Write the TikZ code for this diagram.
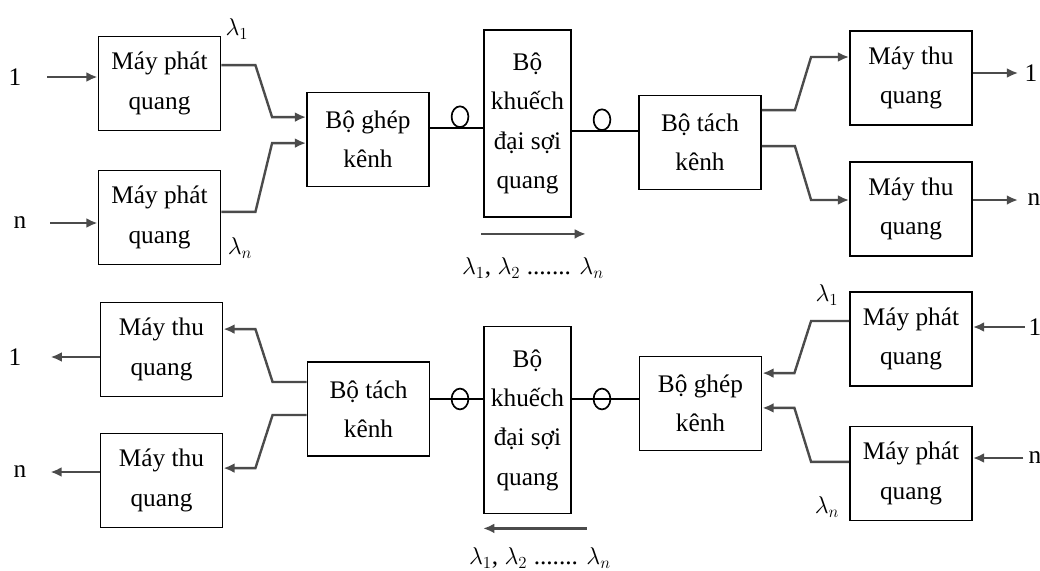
\documentclass[tikz,border=0pt]{standalone}
\usepackage{fontspec}
\setmainfont{Liberation Serif}
\usepackage{tikz}
\usetikzlibrary{shapes.geometric, arrows.meta, positioning}
\definecolor{wiregray}{RGB}{75,75,75}
\tikzset{
  unit/.style={
    draw, rectangle, minimum width=3.05cm, minimum height=2.35cm,
    align=center, font=\fontsize{18}{28}\selectfont,
    line width=1.3pt, inner sep=2pt
  },
  ampbox/.style={unit, minimum width=2.175cm, minimum height=4.675cm},
  wire/.style={-{Latex[length=8pt,width=7pt]}, line width=1.7pt, draw=wiregray},
  fibre/.style={line width=1.2pt},
  joint/.style={draw, ellipse, minimum width=0.42cm, minimum height=0.52cm,
    inner sep=0pt, line width=1.2pt},
  tag/.style={font=\fontsize{18}{20}\selectfont, inner sep=1pt}
}

\begin{document}
\begin{tikzpicture}[x=0.25mm, y=-0.25mm]
  \useasboundingbox (0,0) rectangle (1040,570);

  % Upper link: transmitters -> mux -> amplifier -> demux -> receivers
  \node[unit] (tx1)   at (159.5,83.5)  {Máy phát\\quang};
  \node[unit] (txn)   at (159.5,217.5) {Máy phát\\quang};
  \node[unit] (mux)   at (368,139.5)   {Bộ ghép\\kênh};
  \node[ampbox] (amp) at (527.5,123.5) {Bộ\\khuếch\\đại sợi\\quang};
  \node[unit] (demux) at (700,142.5)   {Bộ tách\\kênh};
  \node[unit] (rx1)   at (911,78)      {Máy thu\\quang};
  \node[unit] (rxn)   at (911,209)     {Máy thu\\quang};

  \node[tag] (in1)  at (15,77)    {1};
  \node[tag] (inn)  at (20,223)   {n};
  \node[tag] (out1) at (1031,73)  {1};
  \node[tag] (outn) at (1034,200) {n};
  \node[tag] (la1)  at (237,29)   {$\lambda_1$};
  \node[tag] (lan)  at (240,248)  {$\lambda_n$};

  \coordinate (f1) at (460,128);
  \coordinate (f2) at (602,131);
  \node[joint, anchor=south] (o1) at (f1) {};
  \node[joint, anchor=south] (o2) at (f2) {};

  \draw[wire] ([xshift=0.61cm]in1.east) -- (in1 -| tx1.west);
  \draw[wire] ([xshift=0.56cm]inn.east) -- (inn -| txn.west);
  \draw[wire] ([yshift=0.46cm]tx1.east) -- ++(34,0)
    -- ([xshift=-0.85cm,yshift=0.56cm]mux.west) -- ([yshift=0.56cm]mux.west);
  \draw[wire] ([yshift=0.14cm]txn.east) -- ++(34,0)
    -- ([xshift=-0.85cm,yshift=-0.09cm]mux.west) -- ([yshift=-0.09cm]mux.west);
  \draw[fibre] (mux.east |- f1) -- (amp.west |- f1);
  \draw[fibre] (amp.east |- f2) -- (demux.west |- f2);
  \draw[wire] ([yshift=0.81cm]demux.east) -- ++(33,0)
    -- ([xshift=-0.95cm,yshift=0.525cm]rx1.west) -- ([yshift=0.525cm]rx1.west);
  \draw[wire] ([yshift=-0.09cm]demux.east) -- ++(33,0)
    -- ([xshift=-0.95cm,yshift=0.225cm]rxn.west) -- ([yshift=0.225cm]rxn.west);
  \draw[wire] (rx1.east |- out1) -- ([xshift=-0.12cm]out1.west);
  \draw[wire] (rxn.east |- outn) -- ([xshift=-0.2cm]outn.west);

  \draw[wire] ([xshift=-0.05cm,yshift=-0.4cm]amp.south west)
    -- ([xshift=0.35cm,yshift=-0.4cm]amp.south east);
  \node[tag] (band) at (533,268) {$\lambda_1$, $\lambda_2$ ....... $\lambda_n$};

  % Lower link: transmitters -> mux -> amplifier -> demux -> receivers (right to left)
  \node[unit] (brx1)   at (161.5,349.5) {Máy thu\\quang};
  \node[unit] (brxn)   at (161.5,480.5) {Máy thu\\quang};
  \node[unit] (bdemux) at (368.5,409)   {Bộ tách\\kênh};
  \node[ampbox] (bamp) at (527.5,420)   {Bộ\\khuếch\\đại sợi\\quang};
  \node[unit] (bmux)   at (700.5,403.5) {Bộ ghép\\kênh};
  \node[unit] (btx1)   at (911,339)     {Máy phát\\quang};
  \node[unit] (btxn)   at (911,473.5)   {Máy phát\\quang};

  \node[tag] (bo1) at (15,357)   {1};
  \node[tag] (bon) at (20,472)   {n};
  \node[tag] (bi1) at (1035,327) {1};
  \node[tag] (bin) at (1035,458) {n};
  \node[tag] (bla1) at (827,295) {$\lambda_1$};
  \node[tag] (blan) at (827,507) {$\lambda_n$};

  \coordinate (f3) at (460,399);
  \coordinate (f4) at (602,399);
  \node[joint] (o3) at (f3) {};
  \node[joint] (o4) at (f4) {};

  \draw[wire] ([xshift=-0.06cm]bi1.west) -- (bi1 -| btx1.east);
  \draw[wire] ([xshift=-0.09cm]bin.west) -- (bin -| btxn.east);
  \draw[wire] ([yshift=0.45cm]btx1.west) -- ++(-38,0)
    -- ([xshift=0.8cm,yshift=0.76cm]bmux.east) -- ([yshift=0.76cm]bmux.east);
  \draw[wire] ([yshift=0.29cm]btxn.west) -- ++(-38,0)
    -- ([xshift=0.8cm,yshift=-0.11cm]bmux.east) -- ([yshift=-0.11cm]bmux.east);
  \draw[fibre] (bmux.west |- f4) -- (bamp.east |- f4);
  \draw[fibre] (bamp.west |- f3) -- (bdemux.east |- f3);
  \draw[wire] ([yshift=0.675cm]bdemux.west) -- ++(-34,0)
    -- ([xshift=0.8cm,yshift=0.51cm]brx1.east) -- ([yshift=0.51cm]brx1.east);
  \draw[wire] ([yshift=-0.15cm]bdemux.west) -- ++(-34,0)
    -- ([xshift=0.8cm,yshift=0.31cm]brxn.east) -- ([yshift=0.31cm]brxn.east);
  \draw[wire] (brx1.west |- bo1) -- ([xshift=0.69cm]bo1.east);
  \draw[wire] (brxn.west |- bon) -- ([xshift=0.56cm]bon.east);

  \draw[wire] ([xshift=0.375cm,yshift=-0.35cm]bamp.south east)
    -- ([yshift=-0.35cm]bamp.south west);
  \node[tag] (bband) at (540,558) {$\lambda_1$, $\lambda_2$ ....... $\lambda_n$};
\end{tikzpicture}
\end{document}
